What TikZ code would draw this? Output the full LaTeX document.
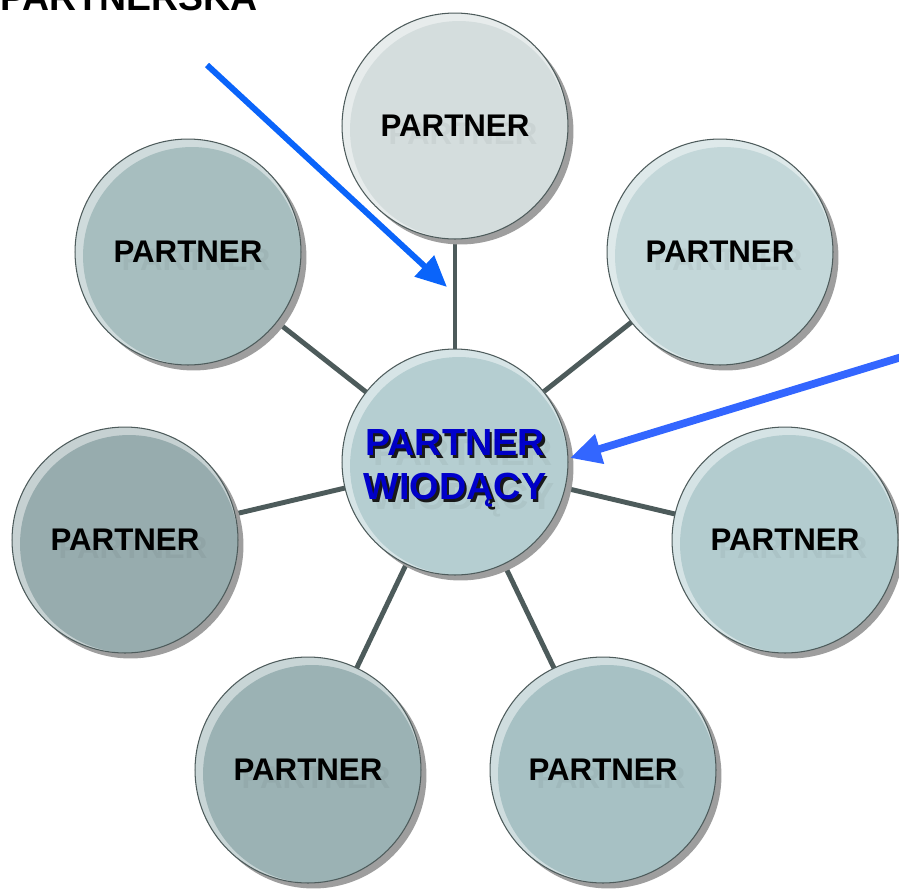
\documentclass[tikz,border=0pt]{standalone}
\usepackage{fontspec}
\setmainfont{Liberation Sans}
\usetikzlibrary{arrows.meta,shadows,backgrounds}
\definecolor{spokegray}{HTML}{4D5B5B}
\definecolor{arrowblue}{HTML}{0A64FA}
\definecolor{arrowblueb}{HTML}{3366FF}
\definecolor{leadblue}{HTML}{0000CC}
\definecolor{ctop}{HTML}{D4DDDD}
\definecolor{ctopleft}{HTML}{A7BEBF}
\definecolor{ctopright}{HTML}{C3D7D9}
\definecolor{clead}{HTML}{B5CED1}
\definecolor{cleft}{HTML}{97ACAE}
\definecolor{cright}{HTML}{B3CCCF}
\definecolor{cbotleft}{HTML}{9BB2B4}
\definecolor{cbotright}{HTML}{A7C1C4}
\newcommand\leadtext[1]{\makebox[0pt][l]{\hspace{0.05cm}\raisebox{-0.05cm}{\color{black!90}#1}}\textcolor{leadblue}{#1}}
\tikzset{
  disc/.style={draw=spokegray, line width=0.6pt, circle, minimum size=4.52cm,
    inner sep=0pt, fill=#1!55!white, align=center,
    font=\bfseries\fontsize{17.8}{20}\selectfont,
    path picture={\fill[#1] ([shift={(0.08cm,-0.08cm)}]path picture bounding box.center) circle (2.18cm);},
    drop shadow={shadow xshift=0.11cm, shadow yshift=-0.11cm, fill=black!38, opacity=1}},
  partner/.style={disc=#1, label={[ghost]center:PARTNER}},
  ghost/.style={text opacity=0.045, xshift=0.16cm, yshift=-0.16cm,
    font=\bfseries\fontsize{17.8}{20}\selectfont, align=center},
  leadlabel/.style={align=center, inner sep=0pt, font=\bfseries\fontsize{21.5}{25}\selectfont},
  spoke/.style={draw=spokegray, line width=2.8pt},
}
\begin{document}
\begin{tikzpicture}[x=0.02cm,y=-0.02cm]
\useasboundingbox (0,0) rectangle (899,890);
\clip (0,0) rectangle (899,890);

\node[anchor=base west, font=\bfseries\fontsize{21.3}{24}\selectfont] (title) at (-6,10) {PARTNERSKA};

\node[disc=clead] (c) at (455,462) {};
\node[leadlabel, label={[ghost, inner sep=0pt, font=\bfseries\fontsize{21.5}{25}\selectfont]center:PARTNER\\WIODĄCY}]
  (ctext) at (455,470) {\leadtext{PARTNER}\\\leadtext{WIODĄCY}};
\node[partner=ctop] (p1) at (455,126) {PARTNER};
\node[partner=ctopright] (p2) at (720,252) {PARTNER};
\node[partner=cright] (p3) at (785,540) {PARTNER};
\node[partner=cbotright] (p4) at (603,770) {PARTNER};
\node[partner=cbotleft] (p5) at (308,770) {PARTNER};
\node[partner=cleft] (p6) at (125,540) {PARTNER};
\node[partner=ctopleft] (p7) at (188,252) {PARTNER};

\begin{scope}[on background layer]
\path[spoke] (c.center) -- (p1.center);
\path[spoke] (c.center) -- (p2.center);
\path[spoke] (c.center) -- (p3.center);
\path[spoke] (c.center) -- (p4.center);
\path[spoke] (c.center) -- (p5.center);
\path[spoke] (c.center) -- (p6.center);
\path[spoke] (c.center) -- (p7.center);
\end{scope}

\coordinate (a1) at (207,65);
\coordinate (t1) at (447,287);
\coordinate (a2) at (905,356);
\coordinate (t2) at (570,458);
\path[draw,arrowblue,line width=3.4pt,-{Triangle[length=0.62cm,width=0.55cm]}] (a1) -- (t1);
\path[draw,arrowblueb,line width=4.4pt,-{Triangle[length=0.62cm,width=0.58cm]}] (a2) -- (t2);
\end{tikzpicture}
\end{document}
